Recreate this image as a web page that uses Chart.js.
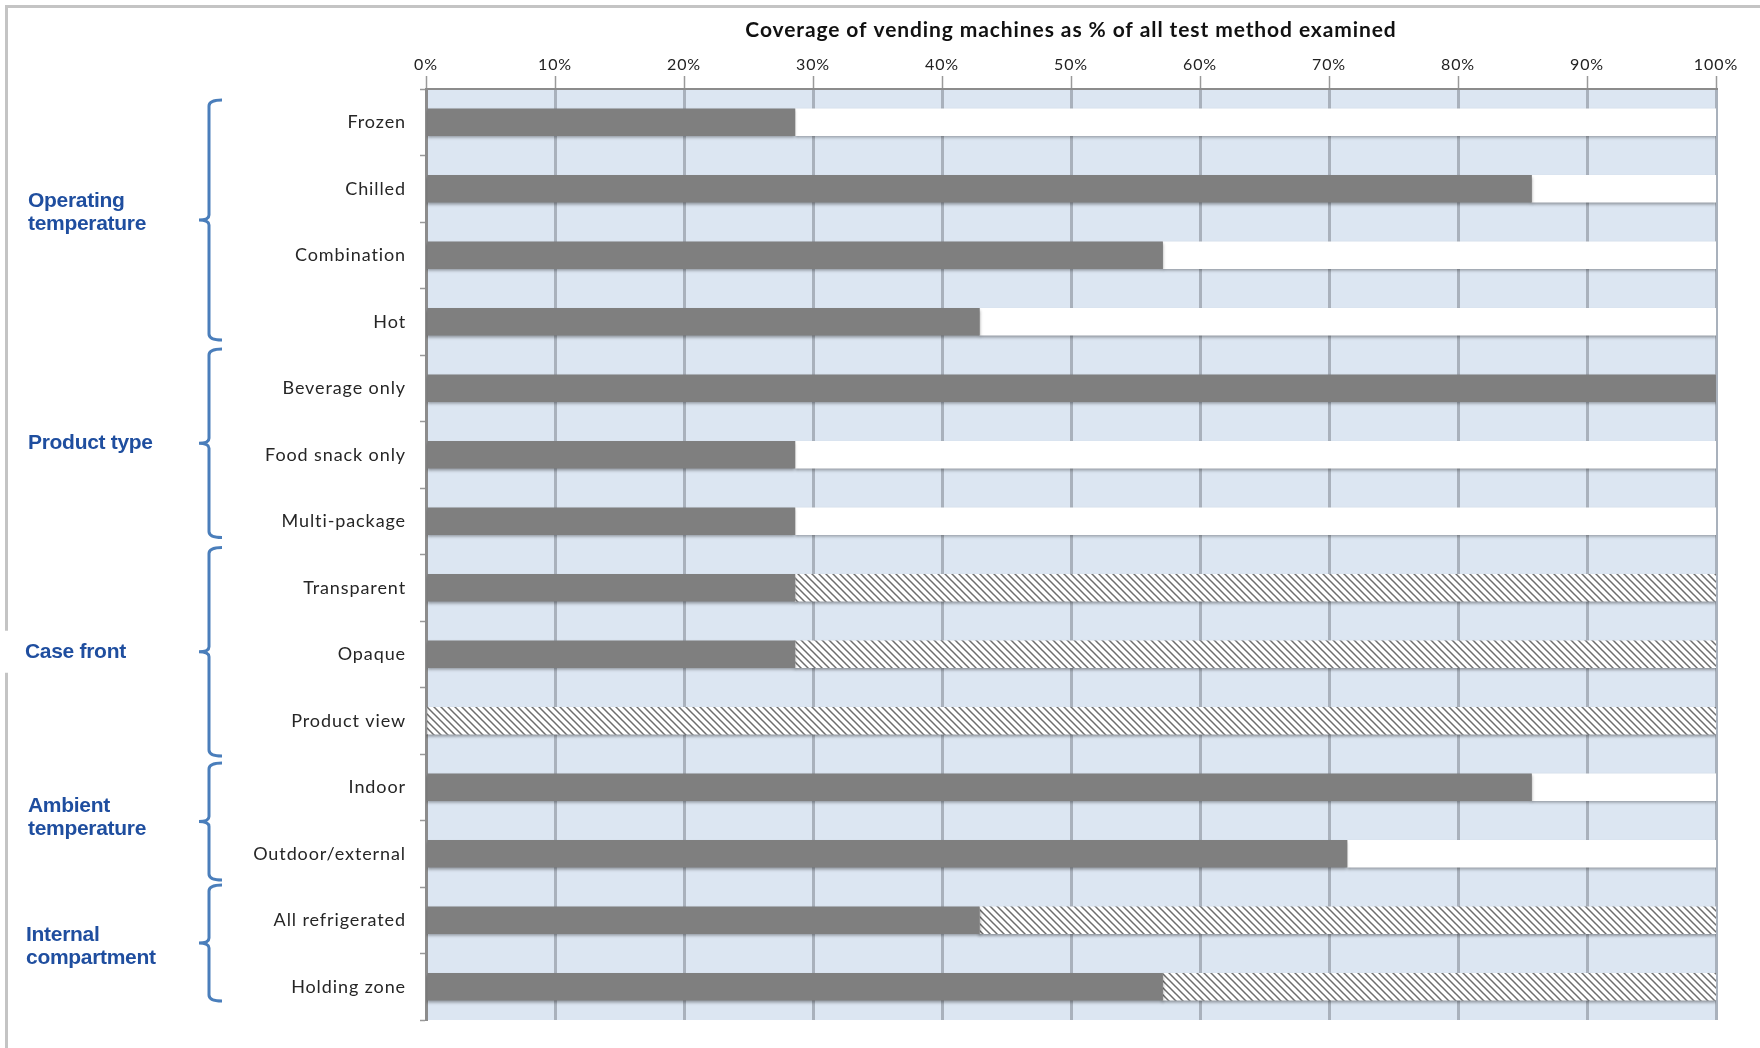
<!DOCTYPE html>
<html>
<head>
<meta charset="utf-8">
<script src="https://cdn.jsdelivr.net/npm/chart.js@4"></script>
<style>
  html, body { margin: 0; padding: 0; background: #fff; }
</style>
</head>
<body>
<canvas id="chart" width="1760" height="1048"></canvas>
<script>
// Categories, top to bottom
const categories = ['Frozen', 'Chilled', 'Combination', 'Hot', 'Beverage only', 'Food snack only',
  'Multi-package', 'Transparent', 'Opaque', 'Product view', 'Indoor', 'Outdoor/external',
  'All refrigerated', 'Holding zone'];

// % covered (grey), % not covered (white), % not specified (hatched)
const covered    = [28.6, 85.7, 57.1, 42.9, 100, 28.6, 28.6, 28.6, 28.6, 0,   85.7, 71.4, 42.9, 57.1];
const notCovered = [71.4, 14.3, 42.9, 57.1, 0,   71.4, 71.4, 0,    0,    0,   14.3, 28.6, 0,    0];
const unclear    = [0,    0,    0,    0,    0,   0,    0,    71.4, 71.4, 100, 0,    0,    57.1, 42.9];

const xTicks = [0, 10, 20, 30, 40, 50, 60, 70, 80, 90, 100];

// group brackets on the left
const groupNames = [['Operating', 'temperature'], ['Product type'], ['Case front'], ['Ambient', 'temperature'], ['Internal', 'compartment']];
const groupFirst = [0, 4, 7, 10, 12];
const groupLast  = [3, 6, 9, 11, 13];

// the brackets and labels in the original are placed by hand, nudge them a bit
const bracketTopAdj = [11, -6, -7, 9, -2];
const bracketBottomAdj = [-15, -17, 2, -7, -19];
const labelAdj = [-7, 0, 0, -4, 4];
const labelX = [28, 28, 25, 28, 26];

// hatch fill for the "not specified" part
function makeHatch() {
  const p = 7;
  const c = document.createElement('canvas');
  c.width = p; c.height = p;
  const g = c.getContext('2d');
  g.fillStyle = '#fff';
  g.fillRect(0, 0, p, p);
  g.strokeStyle = '#6e6e6e';
  g.lineWidth = 1.5;
  g.beginPath();
  g.moveTo(-1, -1); g.lineTo(p + 1, p + 1);
  g.moveTo(p - 2, -2); g.lineTo(p + 2, 2);
  g.moveTo(-2, p - 2); g.lineTo(2, p + 2);
  g.stroke();
  return g.createPattern(c, 'repeat');
}
const hatch = makeHatch();

const backdrop = {
  id: 'backdrop',
  beforeDraw(chart) {
    const { ctx, chartArea: a } = chart;
    ctx.save();
    ctx.fillStyle = '#c4c4c4';
    ctx.fillRect(5, 5, chart.width - 5, 3);
    ctx.fillRect(5, 5, 3, chart.height - 5);
    ctx.fillStyle = '#dce6f2';
    ctx.fillRect(a.left, a.top, a.right - a.left, a.bottom - a.top);
    ctx.restore();
    // the original text is a little spread out
    ctx.letterSpacing = '0.9px';
  },
  afterDraw(chart) {
    chart.ctx.letterSpacing = '0px';
  }
};

const barShadow = {
  id: 'barShadow',
  beforeDatasetDraw(chart) {
    const ctx = chart.ctx;
    ctx.save();
    ctx.shadowColor = 'rgba(0,0,0,0.35)';
    ctx.shadowOffsetY = 2;
    ctx.shadowBlur = 3;
  },
  afterDatasetDraw(chart) {
    chart.ctx.restore();
  }
};

const groups = {
  id: 'groups',
  afterDraw(chart) {
    const { ctx } = chart;
    const y = chart.scales.y;
    const band = y.getPixelForValue(1) - y.getPixelForValue(0);
    const bx = 209;
    ctx.save();
    ctx.letterSpacing = '-0.3px';
    for (let i = 0; i < groupNames.length; i++) {
      const top = y.getPixelForValue(groupFirst[i]) - band / 2 + bracketTopAdj[i];
      const bottom = y.getPixelForValue(groupLast[i]) + band / 2 + bracketBottomAdj[i];
      const mid = (top + bottom) / 2;

      // bracket
      ctx.strokeStyle = '#4a7ebb';
      ctx.lineWidth = 3;
      ctx.beginPath();
      ctx.moveTo(222, top);
      ctx.quadraticCurveTo(bx, top, bx, top + 6);
      ctx.lineTo(bx, mid - 5);
      ctx.quadraticCurveTo(bx, mid, 199, mid);
      ctx.quadraticCurveTo(bx, mid, bx, mid + 5);
      ctx.lineTo(bx, bottom - 6);
      ctx.quadraticCurveTo(bx, bottom, 222, bottom);
      ctx.stroke();

      // group label
      const lines = groupNames[i];
      const lh = 23;
      if (i === 2) {
        ctx.fillStyle = '#fff';
        ctx.fillRect(4, mid - 21, 130, 42);
      }
      const cy = mid + labelAdj[i];
      ctx.fillStyle = '#1f4e9f';
      ctx.font = 'bold 21px "Liberation Sans", Arial, sans-serif';
      ctx.textBaseline = 'middle';
      ctx.textAlign = 'left';
      lines.forEach((t, k) => {
        ctx.fillText(t, labelX[i], cy + (k - (lines.length - 1) / 2) * lh);
      });
    }
    ctx.restore();
  }
};

new Chart(document.getElementById('chart'), {
  type: 'bar',
  data: {
    labels: categories,
    datasets: [
      { label: 'Covered', data: covered, backgroundColor: '#7f7f7f', barThickness: 27 },
      { label: 'Not covered', data: notCovered, backgroundColor: '#ffffff', barThickness: 27 },
      { label: 'Not specified', data: unclear, backgroundColor: hatch, barThickness: 27 }
    ]
  },
  options: {
    indexAxis: 'y',
    responsive: false,
    animation: false,
    layout: { padding: { top: 8, right: 44, bottom: 28, left: 0 } },
    plugins: {
      legend: { display: false },
      tooltip: { enabled: false }
    },
    scales: {
      x: {
        position: 'top',
        stacked: true,
        min: 0,
        max: 100,
        afterBuildTicks(scale) {
          scale.ticks = xTicks.map(v => ({ value: v }));
        },
        afterFit(scale) { scale.height = 81; },
        ticks: {
          callback: v => v + '%',
          color: '#222',
          font: { family: 'Lato, "Open Sans", sans-serif', size: 16 },
          padding: 2
        },
        grid: { color: '#a9b1bc', lineWidth: 3, tickLength: 13, tickColor: '#999', tickWidth: 1.5 },
        border: { color: '#8c8c8c', width: 2 },
        title: {
          display: true,
          text: 'Coverage of vending machines as % of all test method examined',
          color: '#111',
          font: { family: 'Lato, "Open Sans", sans-serif', size: 21, weight: 'bold' },
          padding: { top: 10, bottom: 4 }
        }
      },
      y: {
        stacked: true,
        afterFit(scale) { scale.width = 426; },
        ticks: {
          color: '#262626',
          font: { family: 'Lato, "Open Sans", sans-serif', size: 18 },
          padding: 14
        },
        grid: { drawOnChartArea: false, offset: true, tickLength: 6, tickColor: '#999', tickWidth: 1.5 },
        border: { color: '#8c8c8c', width: 3 }
      }
    }
  },
  plugins: [backdrop, barShadow, groups]
});
</script>
</body>
</html>
